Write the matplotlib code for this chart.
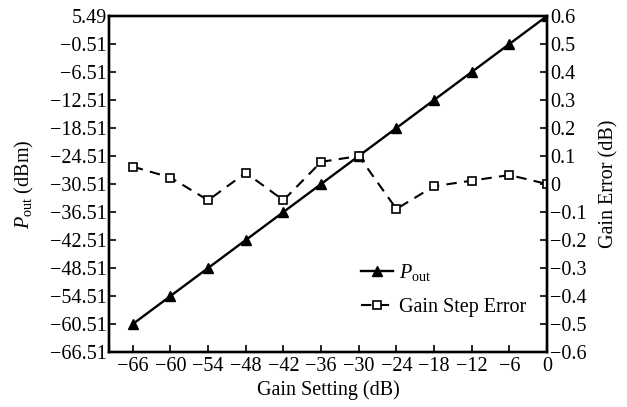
import matplotlib
matplotlib.use("Agg")
import matplotlib.pyplot as plt
import numpy as np

plt.rcParams['font.family'] = ['Liberation Serif', 'DejaVu Serif']
plt.rcParams['mathtext.fontset'] = 'custom'
plt.rcParams['mathtext.rm'] = 'Liberation Serif'
plt.rcParams['mathtext.it'] = 'Liberation Serif:italic'
plt.rcParams['axes.unicode_minus'] = True

gain_setting = [-66, -60, -54, -48, -42, -36, -30, -24, -18, -12, -6, 0]
pout = [-60.51, -54.51, -48.51, -42.51, -36.51, -30.51, -24.51, -18.51, -12.51, -6.51, -0.51, 5.49]
gain_error = [0.062, 0.023, -0.058, 0.040, -0.058, 0.079, 0.100, -0.089, -0.008, 0.012, 0.032, 0.0]

left_ticks = [-66.51, -60.51, -54.51, -48.51, -42.51, -36.51, -30.51, -24.51, -18.51, -12.51, -6.51, -0.51, 5.49]
right_ticks = [-0.6, -0.5, -0.4, -0.3, -0.2, -0.1, 0, 0.1, 0.2, 0.3, 0.4, 0.5, 0.6]
x_ticks = [-66, -60, -54, -48, -42, -36, -30, -24, -18, -12, -6, 0]

fig = plt.figure(figsize=(6.27, 4.07), dpi=100)
ax = fig.add_axes([109/627, 1 - 352/407, (547-109)/627, (352-16)/407])
ax2 = ax.twinx()

fs = 14.5
l1, = ax.plot(gain_setting, pout, '-', color='black', lw=1.7, marker='^', ms=7.5,
              mfc='black', mec='black', label=r'$P_{\rm out}$')
l2, = ax2.plot(gain_setting, gain_error, '--', color='black', lw=1.5, marker='s', ms=5.5,
               mfc='white', mec='black', mew=1.2, dashes=(5, 3.5), label='Gain Step Error')

ax.set_xlim(-69.8, 0)
ax.set_ylim(-66.51, 5.49)
ax2.set_ylim(-0.6, 0.6)
ax.set_xticks(x_ticks)
ax.set_xticklabels([f"{v}".replace('-', '\u2212') for v in x_ticks], fontsize=fs)
ax.set_yticks(left_ticks)
ax.set_yticklabels([f"{v:.2f}".replace('-', '\u2212') for v in left_ticks], fontsize=fs)
ax2.set_yticks(right_ticks)
ax2.set_yticklabels([("0" if v == 0 else f"{v:.1f}").replace('-', '\u2212') for v in right_ticks], fontsize=fs)

for a in (ax, ax2):
    a.tick_params(direction='in', length=5, width=1.2, pad=1.5)
    for s in a.spines.values():
        s.set_linewidth(1.7)
ax.tick_params(axis='x', pad=3.5)
ax2.tick_params(axis='y', pad=2.5)

ax.set_xlabel('Gain Setting (dB)', fontsize=fs, labelpad=3)
ax.set_ylabel(r'$P_{\rm out}$ (dBm)', fontsize=fs, labelpad=10)
ax2.set_ylabel('Gain Error (dB)', fontsize=fs, labelpad=9)

ax2.legend([l1, l2], [r'$P_{\rm out}$', 'Gain Step Error'], loc='lower right',
           bbox_to_anchor=(0.995, 0.05), frameon=False, fontsize=fs,
           handlelength=1.6, handletextpad=0.3, labelspacing=0.75)

fig.savefig('out.png', dpi=100)
